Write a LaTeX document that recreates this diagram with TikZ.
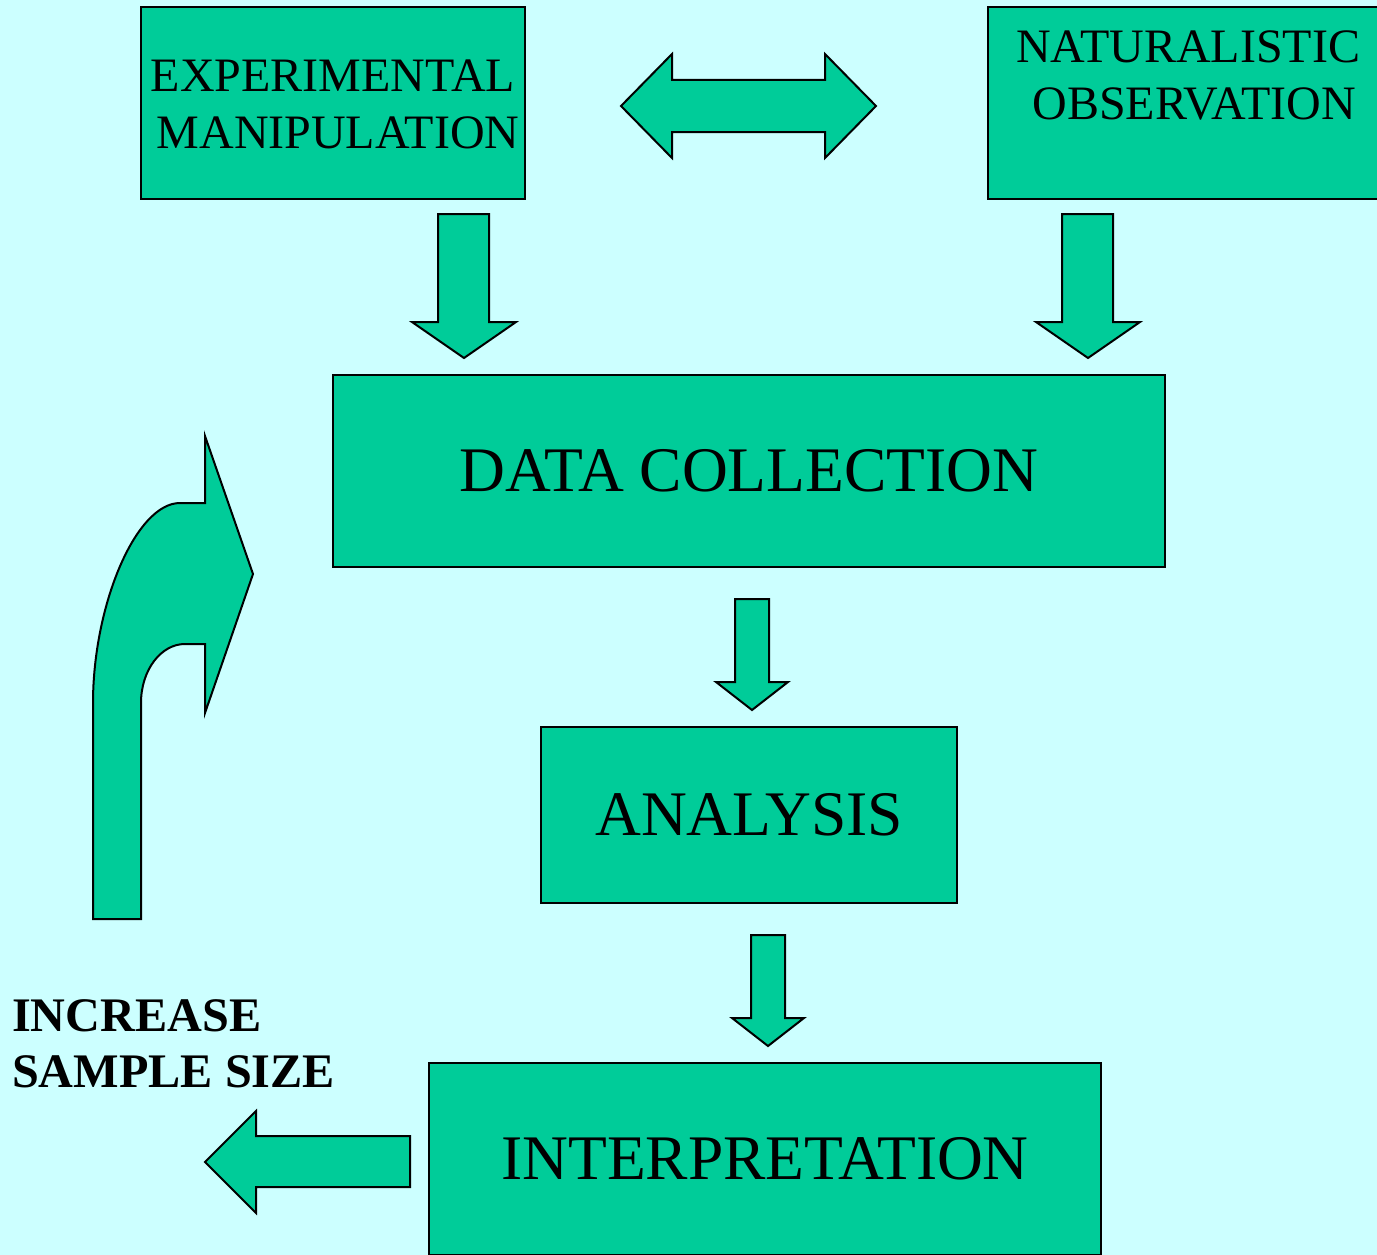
\documentclass[tikz,border=0pt]{standalone}
\usepackage{fontspec}
\setmainfont{Liberation Serif}
\definecolor{bgcyan}{HTML}{CCFFFF}
\definecolor{boxgreen}{HTML}{00CC99}
\tikzset{
  box/.style={draw=black, fill=boxgreen, line width=2pt, inner sep=0pt},
  blockarrow/.style={draw=black, fill=boxgreen, line width=2pt, line join=miter},
  smalltxt/.style={font=\fontsize{48}{57}\selectfont, align=center, inner sep=0pt},
  bigtxt/.style={font=\fontsize{63.5}{76}\selectfont},
  sidetxt/.style={font=\fontsize{48.2}{56}\selectfont\bfseries, align=left, inner sep=0pt}
}
\begin{document}
\begin{tikzpicture}[x=1pt, y=-1pt]
\useasboundingbox (0,0) rectangle (1377,1255);
\clip (0,0) rectangle (1377,1255);
\fill[bgcyan] (0,0) rectangle (1377,1255);

% boxes
\node[box, minimum width=384pt, minimum height=192pt] (em) at (333,103) {};
\node[smalltxt] (emtext) at (333,104.5) {EXPERIMENTAL\\\hspace*{10pt}MANIPULATION};

\node[box, minimum width=402pt, minimum height=192pt] (no) at (1189,103) {};
\node[smalltxt] (notext) at (1188,75) {NATURALISTIC\\\hspace*{12pt}OBSERVATION};

\node[box, bigtxt, minimum width=832pt, minimum height=192pt] (dc) at (749,471) {DATA COLLECTION};
\node[box, bigtxt, minimum width=416pt, minimum height=176pt] (an) at (749,815) {ANALYSIS};
\node[box, bigtxt, minimum width=672pt, minimum height=192pt] (int) at (765,1159) {INTERPRETATION};

\node[sidetxt, anchor=west] (inc) at (12,1044) {INCREASE\\SAMPLE SIZE};

% double arrow between top boxes
\draw[blockarrow] (621,106) -- (672,54) -- (672,80) -- (825,80) -- (825,54) -- (876,106)
  -- (825,158) -- (825,132) -- (672,132) -- (672,158) -- cycle;

% down arrows from top boxes to data collection
\draw[blockarrow] (438,214) -- (489,214) -- (489,322) -- (516,322) -- (464,358)
  -- (412,322) -- (438,322) -- cycle;
\draw[blockarrow] (1062,214) -- (1113,214) -- (1113,322) -- (1140,322) -- (1088,358)
  -- (1036,322) -- (1062,322) -- cycle;

% data collection -> analysis
\draw[blockarrow] (735,599) -- (769,599) -- (769,682) -- (788,682) -- (752,710)
  -- (716,682) -- (735,682) -- cycle;

% analysis -> interpretation
\draw[blockarrow] (751,935) -- (785,935) -- (785,1018) -- (804,1018) -- (768,1046)
  -- (732,1018) -- (751,1018) -- cycle;

% interpretation -> increase sample size
\draw[blockarrow] (410,1136) -- (410,1187) -- (256,1187) -- (256,1213) -- (205,1162)
  -- (256,1111) -- (256,1136) -- cycle;

% curved arrow back up to data collection
\draw[blockarrow] (93,919) -- (93,703)
  .. controls (93,605) and (136,503) .. (180,503)
  -- (205,503) -- (205,436) -- (253,574) -- (205,713) -- (205,644) -- (185,644)
  .. controls (161,644) and (141,670) .. (141,703)
  -- (141,919) -- cycle;
\end{tikzpicture}
\end{document}
